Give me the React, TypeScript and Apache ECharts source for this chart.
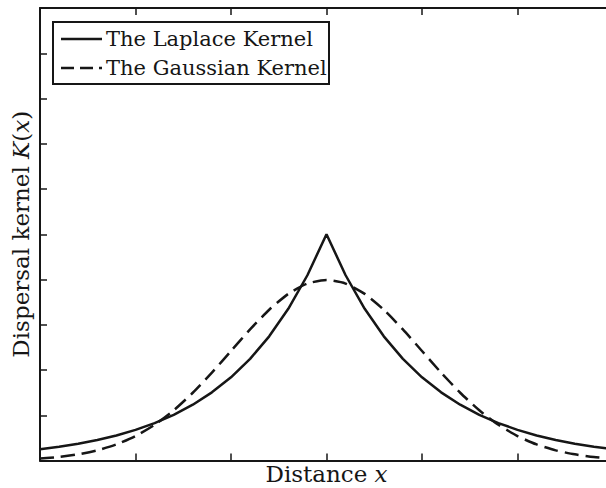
import React, { useEffect, useRef } from "react";
import * as echarts from "echarts";

const xValues = [-3, -2.8, -2.6, -2.4, -2.2, -2, -1.8, -1.6, -1.4, -1.2, -1, -0.8, -0.6, -0.4, -0.2, 0, 0.2, 0.4, 0.6, 0.8, 1, 1.2, 1.4, 1.6, 1.8, 2, 2.2, 2.4, 2.6, 2.8, 3];
const laplace = [0.0249, 0.0304, 0.0371, 0.0454, 0.0554, 0.0677, 0.0827, 0.101, 0.1233, 0.1506, 0.1839, 0.2247, 0.2744, 0.3352, 0.4094, 0.5, 0.4094, 0.3352, 0.2744, 0.2247, 0.1839, 0.1506, 0.1233, 0.101, 0.0827, 0.0677, 0.0554, 0.0454, 0.0371, 0.0304, 0.0249];
const gaussian = [0.0044, 0.0079, 0.0136, 0.0224, 0.0355, 0.054, 0.079, 0.1109, 0.1497, 0.1942, 0.242, 0.2897, 0.3332, 0.3683, 0.391, 0.3989, 0.391, 0.3683, 0.3332, 0.2897, 0.242, 0.1942, 0.1497, 0.1109, 0.079, 0.054, 0.0355, 0.0224, 0.0136, 0.0079, 0.0044];
const seriesNames = ["The Laplace Kernel", "The Gaussian Kernel"];

const FONT = "DejaVu Serif";
const INK = "#161616";
const DASH = [14, 7];

export default function App() {
  const ref = useRef<HTMLDivElement>(null);
  useEffect(() => {
    if (!ref.current) return;
    const chart = echarts.init(ref.current, null, { renderer: "svg" });
    const axisCommon = {
      type: "value" as const,
      axisLine: { show: true, onZero: false, lineStyle: { color: INK, width: 2 } },
      axisTick: { show: true, inside: true, length: 7, lineStyle: { color: INK, width: 1.5 } },
      axisLabel: { show: false },
      splitLine: { show: false },
    };
    const legendText = { fontFamily: FONT, fontSize: 21, fill: INK, verticalAlign: "middle" as const };
    chart.setOption({
      animation: false,
      backgroundColor: "#ffffff",
      grid: { left: 40, top: 8, width: 573, height: 452.5, outerBoundsMode: "none", containLabel: false },
      graphic: [
        {
          type: "rect",
          z: 100,
          shape: { x: 53, y: 22, width: 276, height: 62 },
          style: { fill: "#ffffff", stroke: INK, lineWidth: 2 },
        },
        {
          type: "line",
          z: 101,
          shape: { x1: 61, y1: 39, x2: 102, y2: 39 },
          style: { stroke: INK, lineWidth: 2.5 },
        },
        {
          type: "text",
          z: 101,
          x: 106,
          y: 39,
          style: { ...legendText, text: seriesNames[0] },
        },
        {
          type: "line",
          z: 101,
          shape: { x1: 61, y1: 68, x2: 102, y2: 68 },
          style: { stroke: INK, lineWidth: 2.5, lineDash: [13, 6] },
        },
        {
          type: "text",
          z: 101,
          x: 106,
          y: 68,
          style: { ...legendText, text: seriesNames[1] },
        },
      ],
      xAxis: [
        {
          ...axisCommon,
          min: -3,
          max: 3,
          interval: 1,
          position: "bottom",
          name: "{a|Distance }{b|x}",
          nameLocation: "middle",
          nameGap: 2,
          nameTextStyle: {
            rich: {
              a: { fontFamily: FONT, fontSize: 23, color: INK },
              b: { fontFamily: FONT, fontSize: 23, fontStyle: "italic", color: INK },
            },
          },
        },
        { ...axisCommon, min: -3, max: 3, interval: 1, position: "top" },
      ],
      yAxis: [
        {
          ...axisCommon,
          min: 0,
          max: 1,
          interval: 0.1,
          position: "left",
          name: "{a|Dispersal kernel }{b|K}{a|(}{b|x}{a|)}",
          nameLocation: "middle",
          nameGap: 8,
          nameTextStyle: {
            rich: {
              a: { fontFamily: FONT, fontSize: 23, color: INK },
              b: { fontFamily: FONT, fontSize: 23, fontStyle: "italic", color: INK },
            },
          },
        },
        { ...axisCommon, min: 0, max: 1, interval: 0.1, position: "right" },
      ],
      series: [
        {
          name: seriesNames[0],
          type: "line",
          data: xValues.map((x, i) => [x, laplace[i]]),
          symbol: "none",
          lineStyle: { color: INK, width: 2.5 },
          itemStyle: { color: INK },
        },
        {
          name: seriesNames[1],
          type: "line",
          data: xValues.map((x, i) => [x, gaussian[i]]),
          symbol: "none",
          smooth: 0.2,
          lineStyle: { color: INK, width: 2.5, type: DASH },
          itemStyle: { color: INK },
        },
      ],
    });
    return () => chart.dispose();
  }, []);
  return (
    <div
      ref={ref}
      style={{ position: "fixed", left: 0, top: 0, width: 606, height: 488, background: "#fff" }}
    />
  );
}
